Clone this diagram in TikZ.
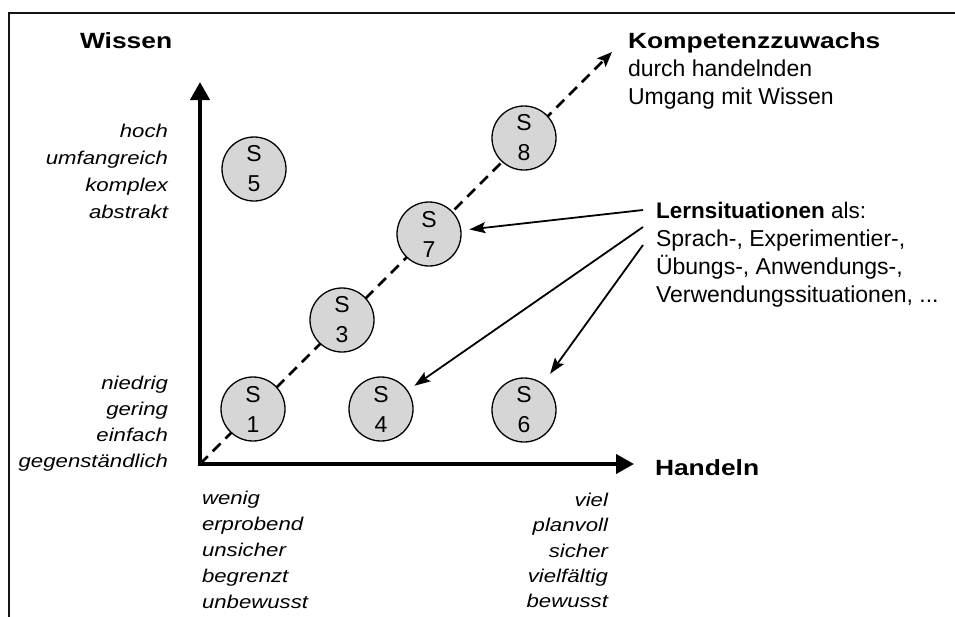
\documentclass[tikz,border=0pt]{standalone}
\usepackage{fontspec}
\setmainfont{Liberation Sans}
\newfontfamily\breitschrift{Liberation Sans}[FakeStretch=1.2]
\usepackage{tikz}
\usetikzlibrary{arrows.meta}

\begin{document}
\begin{tikzpicture}[x=1pt,y=-1pt,line cap=rect,
		situation/.style={circle, draw=black, line width=1.3pt, fill=custcol_kreis, minimum size=64pt, inner sep=0pt, align=center, font=\fontsize{23pt}{30pt}\selectfont},
		kursiv/.style={inner sep=0pt, outer sep=0pt, font=\breitschrift\itshape\fontsize{18.5pt}{18.5pt}\selectfont},
		titel/.style={inner sep=0pt, outer sep=0pt, anchor=base west, font=\breitschrift\bfseries\fontsize{22pt}{22pt}\selectfont},
		zeile/.style={inner sep=0pt, outer sep=0pt, anchor=base west, font=\fontsize{23pt}{23pt}\selectfont},
		achse/.style={line width=4pt, line cap=butt, line join=miter, {Triangle[length=18pt,width=19pt]}-{Triangle[length=18pt,width=19pt]}},
		zuwachs/.style={line width=2.6pt, line cap=butt, dash pattern=on 11pt off 7pt, -{Stealth[length=15pt,width=12pt,inset=3pt]}},
		hinweis/.style={line width=1.8pt, line cap=butt, shorten >=8pt, -{Stealth[length=16pt,width=11pt,inset=3pt]}}]
					\definecolor{custcol_kreis}{RGB}{214, 214, 214}
					\definecolor{custcol_rahmen}{RGB}{20, 20, 20}
					\useasboundingbox (0,0) rectangle (955,616);
					% Rahmen, rechts und unten abgeschnitten
					\draw [line width=1.5pt, custcol_rahmen] (975,13) -- (9,13) -- (9,630);
					% Achsen
					\coordinate (origin) at (200,464);
					\coordinate (wissenspitze) at (200,82);
					\coordinate (handelnspitze) at (634,464);
					\draw [achse] (wissenspitze) -- (origin) -- (handelnspitze);
					% Kompetenzzuwachs (gestrichelt, hinter den Kreisen)
					\coordinate (zuwachsspitze) at (612,52);
					\draw [zuwachs] (origin) -- (zuwachsspitze);
					% Lernsituationen
					\node [situation] (s5) at (254,169) {S\\5};
					\node [situation] (s1) at (253,409) {S\\1};
					\node [situation] (s4) at (381,409) {S\\4};
					\node [situation] (s6) at (524,410) {S\\6};
					\node [situation] (s3) at (342,320) {S\\3};
					\node [situation] (s7) at (429,234) {S\\7};
					\node [situation] (s8) at (524,138) {S\\8};
					% Beschriftung Wissen
					\node [titel] (wissen) at (80,48) {Wissen};
					\node [kursiv, anchor=base east] (hoch) at (168,137) {hoch};
					\node [kursiv, anchor=base east] (umfangreich) at (168,164) {umfangreich};
					\node [kursiv, anchor=base east] (komplex) at (168,191) {komplex};
					\node [kursiv, anchor=base east] (abstrakt) at (168,218) {abstrakt};
					\node [kursiv, anchor=base east] (niedrig) at (168,389) {niedrig};
					\node [kursiv, anchor=base east] (gering) at (168,415) {gering};
					\node [kursiv, anchor=base east] (einfach) at (168,441) {einfach};
					\node [kursiv, anchor=base east] (gegenstaendlich) at (168,467) {gegenständlich};
					% Beschriftung Handeln
					\node [titel] (handeln) at (655,475) {Handeln};
					\node [kursiv, anchor=base west] (wenig) at (202,504) {wenig};
					\node [kursiv, anchor=base west] (erprobend) at (202,530) {erprobend};
					\node [kursiv, anchor=base west] (unsicher) at (202,556) {unsicher};
					\node [kursiv, anchor=base west] (begrenzt) at (202,582) {begrenzt};
					\node [kursiv, anchor=base west] (unbewusst) at (202,608) {unbewusst};
					\node [kursiv, anchor=base east] (viel) at (608,506) {viel};
					\node [kursiv, anchor=base east] (planvoll) at (608,531) {planvoll};
					\node [kursiv, anchor=base east] (sicher) at (608,557) {sicher};
					\node [kursiv, anchor=base east] (vielfaeltig) at (608,582) {vielfältig};
					\node [kursiv, anchor=base east] (bewusst) at (608,607) {bewusst};
					% Kompetenzzuwachs
					\node [titel] (kompetenz) at (628,48) {Kompetenzzuwachs};
					\node [zeile] (durch) at (628,76) {durch handelnden};
					\node [zeile] (umgang) at (628,104) {Umgang mit Wissen};
					% Lernsituationen als ...
					\node [zeile] (lernsit) at (656,218) {\fontsize{22.5pt}{22.5pt}\selectfont\bfseries Lernsituationen \mdseries als:};
					\node [zeile] (sprach) at (656,246) {Sprach-, Experimentier-,};
					\node [zeile] (uebungs) at (656,274) {Übungs-, Anwendungs-,};
					\node [zeile] (verwendung) at (656,302) {Verwendungssituationen, ...};
					\coordinate (lernA) at (643,210);
					\coordinate (lernB) at (643,227);
					\coordinate (lernC) at (643,245);
					\draw [hinweis] (lernA) -- (s7);
					\draw [hinweis] (lernB) -- (s4);
					\draw [hinweis, shorten >=12pt] (lernC) -- (s6);
				\end{tikzpicture}
\end{document}
